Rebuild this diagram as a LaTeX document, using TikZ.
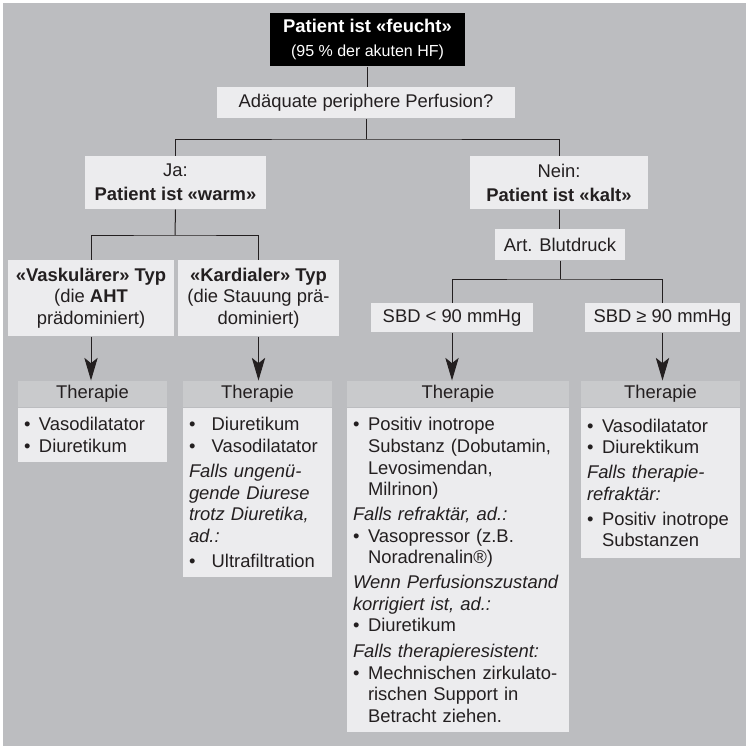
\documentclass[tikz,border=0pt]{standalone}
\usepackage{fontspec}
\setmainfont{Liberation Sans}
\usepackage{tikz}
\usetikzlibrary{arrows.meta}

\definecolor{grund}{HTML}{BCBDC0}
\definecolor{hell}{HTML}{ECECEE}
\definecolor{mittel}{HTML}{C9CACC}
\definecolor{tinte}{HTML}{231F20}

\newcommand{\punkt}{\makebox[11.25pt][l]{•}}
\newcommand{\punktw}{\makebox[17pt][l]{•}}
\newcommand{\einzug}{\hspace*{11.25pt}}

\tikzset{
	feld/.style={fill=hell, text=tinte, align=center, inner sep=0pt},
	kopf/.style={fill=mittel, text=tinte, align=center, inner sep=0pt, minimum height=19.5pt},
	liste/.style={fill=hell, text=tinte, align=left, inner xsep=4.5pt, inner ysep=0pt, anchor=north},
	pfeil/.style={-{Stealth[length=17pt,width=10pt,inset=4pt]}},
}

\begin{document}
\begin{tikzpicture}[x=0.75pt, y=-0.75pt, font=\fontsize{13.8}{16.2}\selectfont, line width=0.75pt, draw=tinte]
		% Hintergrund
		\useasboundingbox (0,0) rectangle (748,746);
		\fill[grund] (3,3) rectangle (746,746);
		% Knoten:
		\node[fill=black, text=white, align=center, inner sep=0pt, minimum width=146.25pt, minimum height=39.75pt](feucht) at (367.5, 39.5){\textbf{Patient ist «feucht»}\\[2pt]{\fontsize{12}{14}\selectfont (95 \% der akuten HF)}};
		\node[feld, minimum width=223.5pt, minimum height=23.25pt](perfusion) at (366, 102.5){Adäquate periphere Perfusion?};
		\node[feld, minimum width=135.75pt, minimum height=39.75pt](warm) at (175.5, 182.5){Ja:\\[1.8pt]\textbf{Patient ist «warm»}};
		\node[feld, minimum width=133.5pt, minimum height=39.75pt](kalt) at (559, 182.5){Nein:\\[1.8pt]\textbf{Patient ist «kalt»}};
		\node[feld, minimum width=124.5pt, minimum height=57pt](vask) at (91, 298){\textbf{«Vaskulärer» Typ}\\(die \textbf{AHT}\\prädominiert)};
		\node[feld, minimum width=120.75pt, minimum height=57pt](kard) at (258.5, 298){\textbf{«Kardialer» Typ}\\(die Stauung prä-\\dominiert)};
		\node[feld, minimum width=97.5pt, minimum height=23.25pt](blut) at (560, 244.5){Art. Blutdruck};
		\node[feld, minimum width=121.5pt, minimum height=21.75pt](sbdlow) at (452, 317.5){SBD < 90 mmHg};
		\node[feld, minimum width=116.25pt, minimum height=21.75pt](sbdhigh) at (662.5, 317.5){SBD ≥ 90 mmHg};
		% Therapie
		\node[kopf, minimum width=111.75pt](th1) at (92.5, 394){Therapie};
		\node[kopf, minimum width=111.75pt](th2) at (257.5, 394){Therapie};
		\node[kopf, minimum width=166.5pt](th3) at (458, 394){Therapie};
		\node[kopf, minimum width=119.25pt](th4) at (660.5, 394){Therapie};
		\node[liste, text width=102.75pt, minimum height=40.5pt](tx1) at (th1.south){\punkt Vasodilatator\\\punkt Diuretikum};
		\node[liste, text width=102.75pt, minimum height=126.75pt](tx2) at (th2.south){\punktw Diuretikum\\\punktw Vasodilatator\\[2.5pt]\textit{Falls ungenü-}\\\textit{gende Diurese}\\\textit{trotz Diuretika,}\\\textit{ad.:}\\[2.5pt]\punktw Ultrafiltration};
		\node[liste, text width=157.5pt, minimum height=243pt](tx3) at (th3.south){\punkt Positiv inotrope\\\einzug Substanz (Dobutamin,\\\einzug Levosimendan,\\\einzug Milrinon)\\[2.5pt]\textit{Falls refraktär, ad.:}\\\punkt Vasopressor (z.B.\\\einzug Noradrenalin®)\\[2.5pt]\textit{Wenn Perfusionszustand}\\\textit{korrigiert ist, ad.:}\\\punkt Diuretikum\\[3pt]\textit{Falls therapieresistent:}\\\punkt Mechnischen zirkulato-\\\einzug rischen Support in\\\einzug Betracht ziehen.};
		\node[liste, text width=110.25pt, minimum height=112.5pt](tx4) at (th4.south){\punkt Vasodilatator\\\punkt Diurektikum\\[2.5pt]\textit{Falls therapie-}\\\textit{refraktär:}\\[2.5pt]\punkt Positiv inotrope\\\einzug Substanzen};
		% Verbindungen:
		\coordinate (gabel1) at (366, 139);
		\coordinate (gabel2) at (175, 235);
		\coordinate (gabel3) at (560, 279);
		\draw (feucht.south) -- (feucht.south |- perfusion.north);
		\draw (perfusion.south) -- (gabel1);
		\draw (warm.north) |- (gabel1) -| (kalt.north);
		\draw (warm.south) -- (gabel2);
		\draw (vask.north) |- (gabel2) -| (kard.north);
		\draw (kalt.south) -- (kalt.south |- blut.north);
		\draw (blut.south) -- (gabel3);
		\draw (sbdlow.north) |- (gabel3) -| (sbdhigh.north);
		\draw[pfeil] (vask.south) -- (vask.south |- th1.north);
		\draw[pfeil] (kard.south) -- (kard.south |- th2.north);
		\draw[pfeil] (sbdlow.south) -- (sbdlow.south |- th3.north);
		\draw[pfeil] (sbdhigh.south) -- (sbdhigh.south |- th4.north);
	\end{tikzpicture}
\end{document}
